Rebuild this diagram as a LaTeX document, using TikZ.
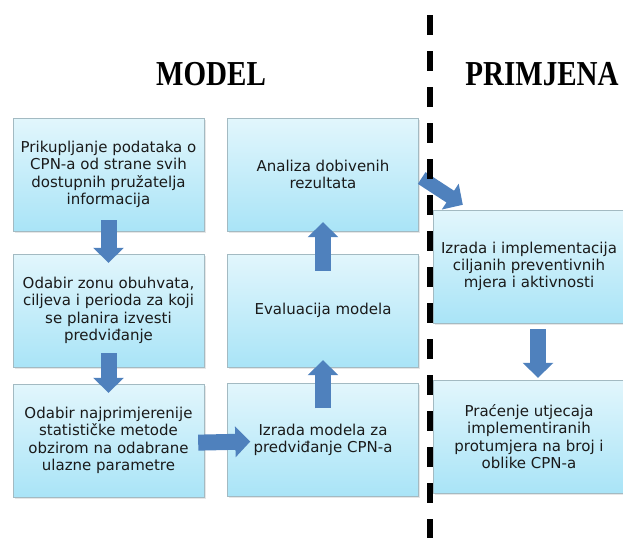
\documentclass[tikz,border=0pt]{standalone}
\usepackage{fontspec}
\setmainfont{DejaVu Sans}
\newfontfamily\titlefont[FakeStretch=0.83]{Liberation Serif}
\usetikzlibrary{arrows.meta, shadows}
\definecolor{boxtop}{HTML}{E2F6FC}
\definecolor{boxbottom}{HTML}{A9E4F7}
\definecolor{boxline}{HTML}{A3BAC2}
\definecolor{arrowblue}{HTML}{4F81BD}
\definecolor{txt}{HTML}{1A1A1A}
\tikzset{
    stepbox/.style={draw=boxline, top color=boxtop, bottom color=boxbottom, drop shadow={opacity=0.2, shadow xshift=1.5pt, shadow yshift=-1.5pt}, minimum width=191pt, minimum height=113pt, inner sep=0pt, align=center, text=txt, font=\fontsize{15}{17.3}\selectfont},
    headline/.style={anchor=base, font=\titlefont\bfseries\fontsize{35}{40}\selectfont},
    blockarrow/.style={arrowblue, line width=16pt, -{Triangle[width=30pt,length=15pt]}},
}
\begin{document}
\begin{tikzpicture}[x=1pt, y=-1pt]
    \useasboundingbox (0, 0) rectangle (623, 538);
    \node[headline] (model) at (211, 85) {MODEL};
    \node[headline] (primjena) at (542, 85) {PRIMJENA};

    \node[stepbox] (prikupljanje) at (108.5, 174.5) {Prikupljanje podataka o\\CPN-a od strane svih\\dostupnih pružatelja\\informacija};
    \node[stepbox] (zona) at (108.5, 310.5) {Odabir zonu obuhvata,\\ciljeva i perioda za koji\\se planira izvesti\\predviđanje};
    \node[stepbox] (metoda) at (108.5, 440.5) {Odabir najprimjerenije\\statističke metode\\obzirom na odabrane\\ulazne parametre};
    \node[stepbox] (izrada) at (323, 440) {Izrada modela za\\predviđanje CPN-a};
    \node[stepbox] (evaluacija) at (323, 310.5) {Evaluacija modela};
    \node[stepbox] (analiza) at (323, 174.5) {Analiza dobivenih\\rezultata};
    \node[stepbox, minimum width=192pt] (mjere) at (529, 266.5) {Izrada i implementacija\\ciljanih preventivnih\\mjera i aktivnosti};
    \node[stepbox, minimum width=192pt] (pracenje) at (529, 436.5) {Praćenje utjecaja\\implementiranih\\protumjera na broj i\\oblike CPN-a};

    \draw[blockarrow, shorten <=-11pt, shorten >=-9pt] (prikupljanje) -- (zona);
    \draw[blockarrow, shorten <=-14pt, shorten >=-9pt] (zona) -- (metoda);
    \draw[blockarrow, shorten <=-6pt, shorten >=-23pt] ([yshift=-2pt]metoda.east) -- ([yshift=-2pt]izrada.west);
    \draw[blockarrow, shorten <=-25pt, shorten >=-7pt] (izrada) -- (evaluacija);
    \draw[blockarrow, shorten <=-17pt, shorten >=-9pt] (evaluacija) -- (analiza);
    \draw[blockarrow, line width=14pt] ([xshift=3pt, yshift=-3.5pt]analiza.east) -- ([xshift=30pt, yshift=5pt]mjere.north west);
    \draw[blockarrow, shorten <=6pt, shorten >=2pt] ([xshift=9pt]mjere.south) -- ([xshift=9pt]pracenje.north);
%    \draw[blockarrow] (analiza) -- (mjere);

    \draw[line width=6pt, dash pattern=on 20pt off 16pt] (430, 15) -- (430, 538);
\end{tikzpicture}
\end{document}
